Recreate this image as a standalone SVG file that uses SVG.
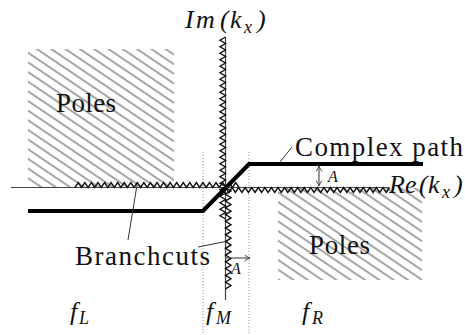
<svg xmlns="http://www.w3.org/2000/svg" width="465" height="335" viewBox="0 0 465 335">
<style>
.lbl{font-family:"Liberation Serif","Times New Roman",serif;font-size:27px;fill:#111}
.math{font-family:"Liberation Serif","Times New Roman",serif;font-style:italic;fill:#111}
.axis{stroke:#444;stroke-width:1.2;fill:none}
.zz{stroke:#111;stroke-width:1.4;fill:none;stroke-linejoin:miter}
.dot{stroke:#999;stroke-width:1;stroke-dasharray:1.2 1.8;fill:none}
.lead{stroke:#333;stroke-width:1;fill:none}
.arr{stroke:#444;stroke-width:1.1;fill:none}
</style>
<defs>
<pattern id="hatch" patternUnits="userSpaceOnUse" width="8" height="8" patternTransform="rotate(34)">
<line x1="0" y1="4" x2="8" y2="4" stroke="#6a6a6a" stroke-width="1.2"/>
</pattern>
<marker id="ah" markerWidth="8" markerHeight="8" refX="6" refY="3" orient="auto-start-reverse" markerUnits="userSpaceOnUse">
<path d="M0.5,0 Q3,2 6,3 Q3,4 0.5,6" stroke="#444" stroke-width="1" fill="none"/>
</marker>
</defs>

<g id="poles-left">
<rect x="28" y="49" width="146" height="138" fill="url(#hatch)"/>
<text class="lbl" x="56" y="112" textLength="60" lengthAdjust="spacing">Poles</text>
</g>
<g id="poles-right">
<rect x="278" y="188" width="144" height="92" fill="url(#hatch)"/>
<text class="lbl" x="309" y="254" textLength="61" lengthAdjust="spacing">Poles</text>
</g>

<g id="regions">
<line class="dot" x1="203" y1="152" x2="203" y2="335"/>
<line class="dot" x1="249" y1="152" x2="249" y2="335"/>
</g>

<g id="axes">
<line class="axis" x1="11" y1="187.5" x2="389" y2="187.5"/>
<line class="axis" x1="225.5" y1="37" x2="225.5" y2="300"/>
<text class="math" x="185 196 220 230" y="28" font-size="26">Im(k</text>
<text class="math" x="244" y="33" font-size="18">x</text>
<text class="math" x="257" y="28" font-size="26" font-style="normal">)</text>
<text class="math" x="389 405 419 428" y="193" font-size="26">Re(k</text>
<text class="math" x="442" y="198" font-size="18">x</text>
<text class="math" x="454" y="193" font-size="26" font-style="normal">)</text>
</g>

<g id="branchcuts">
<path class="zz" d="M225.5 37 l-5.5 3.25 5.5 3.25 -5.5 3.25 5.5 3.25 -5.5 3.25 5.5 3.25 -5.5 3.25 5.5 3.25 -5.5 3.25 5.5 3.25 -5.5 3.25 5.5 3.25 -5.5 3.25 5.5 3.25 -5.5 3.25 5.5 3.25 -5.5 3.25 5.5 3.25 -5.5 3.25 5.5 3.25 -5.5 3.25 5.5 3.25 -5.5 3.25 5.5 3.25 -5.5 3.25 5.5 3.25 -5.5 3.25 5.5 3.25 -5.5 3.25 5.5 3.25 -5.5 3.25 5.5 3.25 -5.5 3.25 5.5 3.25 -5.5 3.25 5.5 3.25 -5.5 3.25 5.5 3.25 -5.5 3.25 5.5 3.25 -5.5 3.25 5.5 3.25 -5.5 3.25 5.5 3.25 -5.5 3.25 5.5 3.25 -5.5 3.25 5.5 3.25 -5.5 3.25 5.5 3.25 -5.5 3.25 5.5 3.25 -5.5 3.25 5.5 3.25 -5.5 3.25 5.5 3.25"/>
<path class="zz" d="M75 187.5 l3.28 -5 3.28 5 3.28 -5 3.28 5 3.28 -5 3.28 5 3.28 -5 3.28 5 3.28 -5 3.28 5 3.28 -5 3.28 5 3.28 -5 3.28 5 3.28 -5 3.28 5 3.28 -5 3.28 5 3.28 -5 3.28 5 3.28 -5 3.28 5 3.28 -5 3.28 5 3.28 -5 3.28 5 3.28 -5 3.28 5 3.28 -5 3.28 5 3.28 -5 3.28 5 3.28 -5 3.28 5 3.28 -5 3.28 5 3.28 -5 3.28 5 3.28 -5 3.28 5 3.28 -5 3.28 5 3.28 -5 3.28 5 3.28 -5 3.28 5 3.28 -5 3.28 5 3.28 -5 3.28 5"/>
<path class="zz" d="M225.5 187.5 l3.28 5 3.28 -5 3.28 5 3.28 -5 3.28 5 3.28 -5 3.28 5 3.28 -5 3.28 5 3.28 -5 3.28 5 3.28 -5 3.28 5 3.28 -5 3.28 5 3.28 -5 3.28 5 3.28 -5 3.28 5 3.28 -5 3.28 5 3.28 -5 3.28 5 3.28 -5 3.28 5 3.28 -5 3.28 5 3.28 -5 3.28 5 3.28 -5 3.28 5 3.28 -5 3.28 5 3.28 -5 3.28 5 3.28 -5 3.28 5 3.28 -5 3.28 5 3.28 -5 3.28 5 3.28 -5 3.28 5 3.28 -5 3.28 5 3.28 -5 3.28 5 3.28 -5 3.28 5 3.28 -5"/>
<path class="zz" d="M225.5 187.5 l5.5 3.38 -5.5 3.38 5.5 3.38 -5.5 3.38 5.5 3.38 -5.5 3.38 5.5 3.38 -5.5 3.38 5.5 3.38 -5.5 3.38 5.5 3.38 -5.5 3.38 5.5 3.38 -5.5 3.38 5.5 3.38 -5.5 3.38 5.5 3.38 -5.5 3.38 5.5 3.38 -5.5 3.38 5.5 3.38 -5.5 3.38 5.5 3.38 -5.5 3.38 5.5 3.38 -5.5 3.38 5.5 3.38 -5.5 3.38 5.5 3.38 -5.5 3.38"/>
<text class="lbl" x="75" y="265" textLength="135" lengthAdjust="spacing">Branchcuts</text>
</g>

<g id="complex-path">
<polyline points="28,211 203,211 249,164 423,164" fill="none" stroke="#000" stroke-width="4.2" stroke-linejoin="miter"/>
<text class="lbl" x="295" y="156" textLength="168" lengthAdjust="spacing">Complex path</text>
</g>

<g id="labels-f">
<text class="math" x="70" y="320" font-size="26">f</text>
<text class="math" x="79" y="324" font-size="18">L</text>
<text class="math" x="206" y="320" font-size="26">f</text>
<text class="math" x="216" y="324" font-size="18" textLength="24" lengthAdjust="spacing">M</text>
<text class="math" x="302" y="320" font-size="26">f</text>
<text class="math" x="312" y="324" font-size="18">R</text>
</g>

<g id="connectors">
<line class="lead" x1="292" y1="147" x2="280" y2="162"/>
<line class="lead" x1="128" y1="240" x2="137" y2="185"/>
<line class="lead" x1="198" y1="247" x2="228" y2="241"/>
<line class="arr" x1="319" y1="166" x2="319" y2="186" marker-start="url(#ah)" marker-end="url(#ah)"/>
<text class="math" x="328" y="182" font-size="16">A</text>
<line class="arr" x1="226" y1="258" x2="250" y2="258" marker-end="url(#ah)"/>
<text class="math" x="231" y="274" font-size="16">A</text>
</g>
</svg>
